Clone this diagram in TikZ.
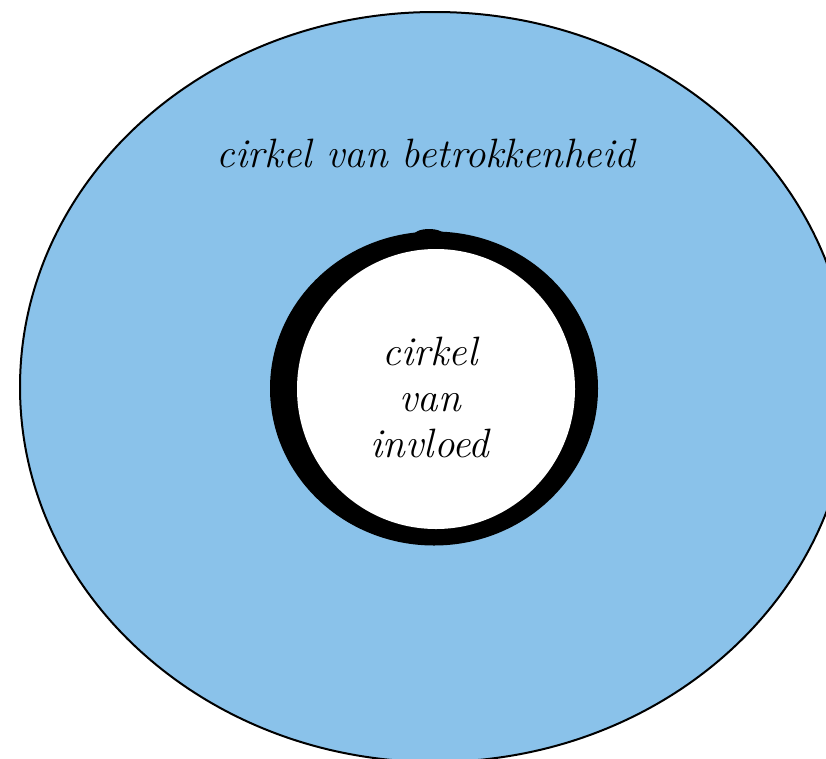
\documentclass[tikz,border=0pt]{standalone}
\usepackage{fontspec}
\setmainfont{Latin Modern Roman}
\definecolor{outerblue}{HTML}{8AC2EA}
\begin{document}
\begin{tikzpicture}[x=1pt,y=-1pt,
  hand/.style={font=\itshape\fontsize{41}{46}\selectfont, text=black, align=center, inner sep=0pt}]
\useasboundingbox (0,0) rectangle (826,758);
\clip (0,0) rectangle (826,758);
% outer circle of concern
\draw[fill=outerblue, draw=black, line width=2] (435,387) ellipse [x radius=415, y radius=375];
% inner circle of influence: thick black ring
\fill[black] (434,388.5) ellipse [x radius=164, y radius=157];
\fill[white] (436,389) ellipse [x radius=139, y radius=140];
\fill[black] (429,236) ellipse [x radius=16, y radius=7];
\node[hand] (outerlabel) at (426,153) {cirkel van betrokkenheid};
\node[hand, text width=200, execute at begin node=\setlength{\baselineskip}{46pt}] (innerlabel) at (430,397) {cirkel\\van\\invloed};
\end{tikzpicture}
\end{document}
